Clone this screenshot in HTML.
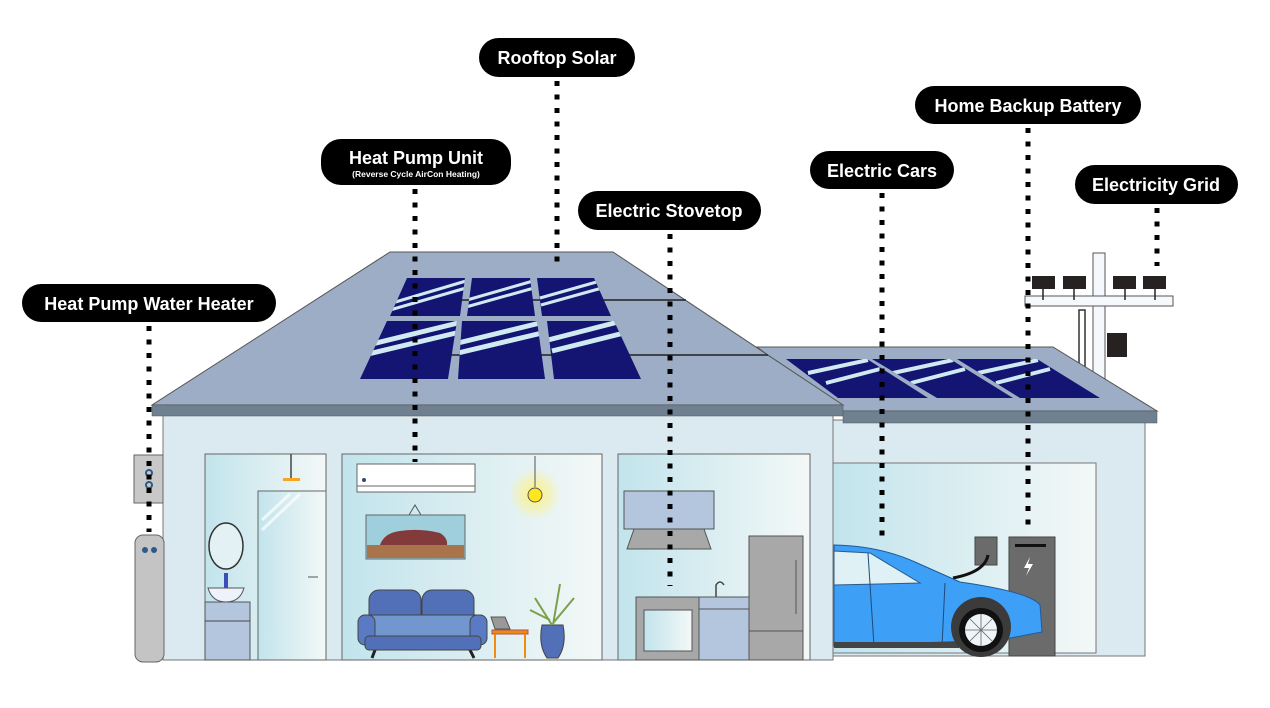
<!DOCTYPE html>
<html><head><meta charset="utf-8"><style>
html,body{margin:0;padding:0;background:#fff;width:1270px;height:708px;overflow:hidden}
svg{display:block}
text{font-family:"Liberation Sans",sans-serif;font-weight:bold;fill:#fff}
</style></head><body>
<svg width="1270" height="708" viewBox="0 0 1270 708" xmlns="http://www.w3.org/2000/svg">
<defs>
<linearGradient id="rg" x1="0" x2="1" y1="0" y2="0"><stop offset="0" stop-color="#c2e4ec"/><stop offset="1" stop-color="#f3f8f7"/></linearGradient>
<radialGradient id="glow"><stop offset="0" stop-color="#fff27a" stop-opacity="1"/><stop offset="1" stop-color="#fff27a" stop-opacity="0"/></radialGradient>
<clipPath id="pc">
<polygon points="407,278 465,278 460,316 390,316"/>
<polygon points="472,278 530,278 535,316 467,316"/>
<polygon points="537,278 594,278 611,316 542,316"/>
<polygon points="387,321 457,321 448,379 360,379"/>
<polygon points="462,321 537,321 545,379 458,379"/>
<polygon points="547,321 614,321 641,379 554,379"/>
<polygon points="786,359 867,359 928,398 838,398"/>
<polygon points="872,359 950,359 1013,398 937,398"/>
<polygon points="957,359 1037,359 1100,398 1020,398"/>
</clipPath>
</defs>

<!-- power pole -->
<rect x="1079" y="310" width="6" height="70" fill="#fff" stroke="#333" stroke-width="1.5"/>
<rect x="1093" y="253" width="12" height="130" fill="#f5f9fd" stroke="#555" stroke-width="1"/>
<rect x="1025" y="296" width="148" height="10" fill="#f5f9fd" stroke="#555" stroke-width="1"/>
<g fill="#262222"><rect x="1032" y="276" width="23" height="13"/><rect x="1063" y="276" width="23" height="13"/><rect x="1113" y="276" width="23" height="13"/><rect x="1143" y="276" width="23" height="13"/>
<rect x="1107" y="333" width="20" height="24"/></g>
<g stroke="#262222" stroke-width="1.5"><line x1="1043" y1="289" x2="1043" y2="300"/><line x1="1074" y1="289" x2="1074" y2="300"/><line x1="1125" y1="289" x2="1125" y2="300"/><line x1="1155" y1="289" x2="1155" y2="300"/></g>

<!-- garage -->
<rect x="833" y="420" width="312" height="236" fill="#dbe9f0" stroke="#777" stroke-width="1"/>
<rect x="833" y="463" width="263" height="190" fill="url(#rg)" stroke="#777" stroke-width="1"/>
<polygon points="757,347 1053,347 1157,411 843,411" fill="#9dadc5" stroke="#555" stroke-width="1"/>
<rect x="843" y="411" width="314" height="12" fill="#6f8091" stroke="#555" stroke-width="0.5"/>

<!-- main house -->
<rect x="163" y="414" width="670" height="246" fill="#dbe9f0" stroke="#777" stroke-width="1"/>
<polygon points="390,252 613,252 843,405 152,405" fill="#9dadc5" stroke="#555" stroke-width="1"/>
<rect x="152" y="405" width="691" height="11" fill="#6f8091" stroke="#555" stroke-width="0.5"/>
<line x1="460" y1="300" x2="686" y2="300" stroke="#222" stroke-width="1.5"/>
<line x1="448" y1="355" x2="768" y2="355" stroke="#222" stroke-width="1.5"/>

<!-- panels -->
<g clip-path="url(#pc)">
<rect x="350" y="270" width="760" height="140" fill="#141473"/>
<g stroke="#cfeaf0" fill="none">
<g stroke-width="3">
<path d="M392 303 L466 281 M390 310 L466 288"/>
<path d="M467 300 L533 281 M466 307 L534 288"/>
<path d="M540 298 L600 281 M541 305 L602 288"/>
</g>
<g stroke-width="5">
<path d="M368 345 L458 323 M364 355 L456 333"/>
<path d="M458 343 L540 323 M458 353 L542 333"/>
<path d="M548 340 L618 322 M552 351 L624 333"/>
</g>
<g stroke-width="4">
<path d="M808 373 L868 360 M826 383 L880 369"/>
<path d="M893 373 L953 360 M911 383 L965 369"/>
<path d="M978 373 L1038 360 M996 383 L1050 369"/>
</g>
</g>
</g>

<!-- water heater -->
<rect x="134" y="455" width="29" height="48" fill="#c8c8c8" stroke="#666"/>
<circle cx="149" cy="473" r="3" fill="none" stroke="#2a5a8a" stroke-width="2"/><circle cx="149" cy="485" r="3" fill="none" stroke="#2a5a8a" stroke-width="2"/>
<rect x="135" y="535" width="29" height="127" rx="8" fill="#c4c4c4" stroke="#666"/>
<circle cx="145" cy="550" r="3" fill="#2a5a8a"/><circle cx="154" cy="550" r="3" fill="#2a5a8a"/>

<!-- bathroom -->
<rect x="205" y="454" width="121" height="206" fill="url(#rg)" stroke="#666"/>
<rect x="258" y="491" width="68" height="169" fill="url(#rg)" stroke="#666"/>
<path d="M262 530 L300 494 M262 520 L290 494" stroke="#fff" stroke-width="3" opacity=".7"/>
<line x1="308" y1="577" x2="318" y2="577" stroke="#555"/>
<line x1="291" y1="454" x2="291" y2="478" stroke="#444" stroke-width="1.5"/>
<rect x="283" y="478" width="17" height="3" fill="#f6a623"/>
<ellipse cx="226" cy="546" rx="17" ry="23" fill="#e3f1f5" stroke="#333" stroke-width="1.5"/>
<path d="M208 588 L244 588 Q240 602 226 602 Q212 602 208 588Z" fill="#eef2fb" stroke="#555"/>
<rect x="224" y="573" width="4" height="15" fill="#3b4fb8"/>
<rect x="205" y="602" width="45" height="58" fill="#b3c6de" stroke="#555"/>
<line x1="205" y1="621" x2="250" y2="621" stroke="#444"/>

<!-- living -->
<rect x="342" y="454" width="260" height="206" fill="url(#rg)" stroke="#666"/>
<rect x="357" y="464" width="118" height="28" fill="#fff" stroke="#666"/>
<line x1="357" y1="486" x2="475" y2="486" stroke="#666"/>
<circle cx="364" cy="480" r="2" fill="#2a4a7a"/>
<circle cx="535" cy="494" r="26" fill="url(#glow)"/>
<line x1="535" y1="456" x2="535" y2="487" stroke="#555"/>
<circle cx="535" cy="495" r="7" fill="#ffe61e" stroke="#555"/>
<path d="M409 515 L415 505 L421 515" fill="none" stroke="#555"/>
<rect x="366" y="515" width="99" height="44" fill="#9fcfdc" stroke="#666"/>
<rect x="367" y="545" width="97" height="13" fill="#a97449"/>
<path d="M380 545 Q384 533 400 531 Q420 528 440 533 Q448 538 447 545Z" fill="#823a3a"/>
<path d="M375 650 L372 658 M470 650 L474 658" stroke="#222" stroke-width="3"/>
<rect x="369" y="590" width="52" height="42" rx="10" fill="#5270b8" stroke="#444"/>
<rect x="422" y="590" width="52" height="42" rx="10" fill="#5270b8" stroke="#444"/>
<rect x="358" y="615" width="129" height="24" rx="8" fill="#7297cf" stroke="#444"/>
<rect x="358" y="615" width="17" height="30" rx="7" fill="#5b7ac4" stroke="#444"/>
<rect x="470" y="615" width="17" height="30" rx="7" fill="#5b7ac4" stroke="#444"/>
<rect x="365" y="636" width="116" height="14" rx="4" fill="#5270b8" stroke="#444"/>
<rect x="492" y="630" width="36" height="4" fill="#f08a10" stroke="#a55"/>
<path d="M495 634 V658 M525 634 V658" stroke="#f08a10" stroke-width="2"/>
<path d="M491 617 L505 617 L510 629 L495 629Z" fill="#999" stroke="#555"/>
<path d="M542 625 L563 625 Q567 645 558 658 L547 658 Q538 645 542 625Z" fill="#5270b8" stroke="#444"/>
<g stroke="#7aa04a" stroke-width="2" fill="none"><path d="M553 625 L560 584 M552 625 L535 598 M554 622 L574 598 M550 620 L530 610"/></g>

<!-- kitchen -->
<rect x="618" y="454" width="192" height="206" fill="url(#rg)" stroke="#666"/>
<rect x="624" y="491" width="90" height="38" fill="#b3c6de" stroke="#555"/>
<polygon points="634,529 704,529 711,549 627,549" fill="#a8a8a8" stroke="#555"/>
<rect x="636" y="597" width="63" height="63" fill="#a8a8a8" stroke="#555"/>
<rect x="644" y="610" width="48" height="41" fill="url(#rg)" stroke="#555"/>
<rect x="699" y="597" width="50" height="63" fill="#b3c6de" stroke="#555"/>
<line x1="699" y1="609" x2="749" y2="609" stroke="#555"/>
<path d="M716 597 V585 Q720 579 724 585" fill="none" stroke="#444" stroke-width="1.5"/>
<rect x="749" y="536" width="54" height="124" fill="#a8a8a8" stroke="#555"/>
<line x1="749" y1="631" x2="803" y2="631" stroke="#555"/>
<line x1="796" y1="560" x2="796" y2="614" stroke="#555"/>

<!-- garage stuff -->
<rect x="975" y="537" width="22" height="28" fill="#6b6b6b" stroke="#444"/>
<path d="M988 555 Q985 572 953 578" fill="none" stroke="#111" stroke-width="3"/>
<rect x="1009" y="537" width="46" height="119" fill="#6b6b6b" stroke="#444"/>
<rect x="1015" y="544" width="31" height="3" fill="#111"/>
<path d="M1030 557 L1024 568 L1029 568 L1026 576 L1033 564 L1028 564Z" fill="#fff"/>
<path d="M834 545 Q880 546 915 562 L960 582 Q1030 592 1040 605 L1042 632 L1000 640 L834 646Z" fill="#3d9ff5" stroke="#1e5b9a"/>
<path d="M834 551 L870 553 L920 583 L834 585Z" fill="#dff1f4" stroke="#2a5a8a"/>
<line x1="868" y1="553" x2="874" y2="646" stroke="#1e4a7a"/>
<line x1="945" y1="583" x2="942" y2="646" stroke="#1e4a7a"/>
<rect x="834" y="642" width="125" height="6" fill="#444"/>
<circle cx="981" cy="627" r="30" fill="#3b3b3b"/>
<circle cx="981" cy="630" r="22" fill="#111"/>
<circle cx="981" cy="630" r="16" fill="#eef4f8"/>
<g stroke="#666" stroke-width="0.8"><line x1="965" y1="630" x2="997" y2="630"/><line x1="981" y1="614" x2="981" y2="646"/><line x1="970" y1="619" x2="992" y2="641"/><line x1="992" y1="619" x2="970" y2="641"/></g>

<!-- dotted leaders -->
<g stroke="#000" stroke-width="5" stroke-dasharray="5 8.5" fill="none">
<line x1="149" y1="326" x2="149" y2="532"/>
<line x1="415" y1="189" x2="415" y2="462"/>
<line x1="557" y1="81" x2="557" y2="262"/>
<line x1="670" y1="234" x2="670" y2="586"/>
<line x1="882" y1="193" x2="882" y2="540"/>
<line x1="1028" y1="128" x2="1028" y2="526"/>
<line x1="1157" y1="208" x2="1157" y2="266"/>
</g>

<!-- labels -->
<rect x="479" y="38" width="156" height="39" rx="19.5" fill="#000"/>
<text x="557" y="64" font-size="18" text-anchor="middle">Rooftop Solar</text>
<rect x="321" y="139" width="190" height="46" rx="20" fill="#000"/>
<text x="416" y="164" font-size="18" text-anchor="middle">Heat Pump Unit</text>
<text x="416" y="177" font-size="8.5" text-anchor="middle">(Reverse Cycle AirCon Heating)</text>
<rect x="578" y="191" width="183" height="39" rx="19.5" fill="#000"/>
<text x="669" y="217" font-size="18" text-anchor="middle">Electric Stovetop</text>
<rect x="810" y="151" width="144" height="38" rx="19" fill="#000"/>
<text x="882" y="177" font-size="18" text-anchor="middle">Electric Cars</text>
<rect x="915" y="86" width="226" height="38" rx="19" fill="#000"/>
<text x="1028" y="112" font-size="18" text-anchor="middle">Home Backup Battery</text>
<rect x="1075" y="165" width="163" height="39" rx="19.5" fill="#000"/>
<text x="1156" y="191" font-size="18" text-anchor="middle">Electricity Grid</text>
<rect x="22" y="284" width="254" height="38" rx="19" fill="#000"/>
<text x="149" y="310" font-size="18" text-anchor="middle">Heat Pump Water Heater</text>
</svg>
</body></html>
